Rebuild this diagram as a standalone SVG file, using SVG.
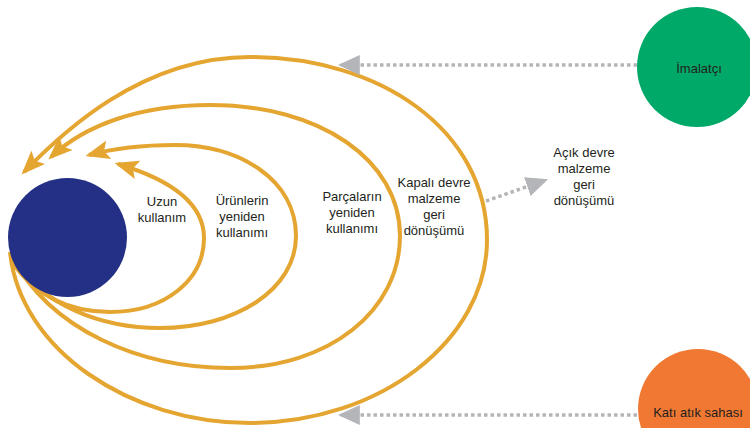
<svg xmlns="http://www.w3.org/2000/svg" width="750" height="428" viewBox="0 0 750 428">
<style>
.loop{fill:none;stroke:#E5A531;stroke-width:4;marker-end:url(#oa)}
.dot{fill:none;stroke:#B3B5B8;stroke-width:3.5;stroke-dasharray:3.5 3}
text{font-family:"Liberation Sans",Arial,sans-serif;font-size:13px;fill:#231F20;text-anchor:middle}
</style>
<defs>
<marker id="oa" markerUnits="userSpaceOnUse" markerWidth="24" markerHeight="20" refX="17" refY="8" orient="auto" viewBox="0 0 20 16">
<path d="M0,0 L20,8 L0,16 L4,8 Z" fill="#E5A531"/>
</marker>
<marker id="ga" markerUnits="userSpaceOnUse" markerWidth="22" markerHeight="20" refX="18" refY="9" orient="auto" viewBox="0 0 20 18">
<path d="M0,0 L20,9 L0,18 Z" fill="#B3B5B8"/>
</marker>
</defs>
<rect width="750" height="428" fill="#FFFFFF"/>
<g id="connectors">
<path class="loop" d="M 10,252 C 20,350 130,423 250,423 C 380,423 487,340 487,240 C 487,130 380,57 250,57 C 140,57 60,135 24,172"/>
<path class="loop" d="M 12,256 C 50,330 140,368 230,368 C 330,368 400,310 400,236 C 400,160 320,105 210,105 C 140,105 85,125 51,157"/>
<path class="loop" d="M 14,262 C 45,305 100,328 160,328 C 235,328 296,290 296,236 C 296,180 240,145 175,145 C 140,145 115,148 89,155"/>
<path class="loop" d="M 14,265 C 40,300 75,312 110,312 C 165,312 204,280 204,238 C 204,200 165,178 118,164"/>
<path class="dot" d="M 637,65 L 340,65" marker-end="url(#ga)"/>
<path class="dot" d="M 637,415 L 340,415" marker-end="url(#ga)"/>
<path class="dot" d="M 486,201 L 546,180" marker-end="url(#ga)"/>
</g>
<g id="center">
<circle cx="67.5" cy="237.5" r="59.5" fill="#243086"/>
</g>
<g id="imalatci">
<circle cx="697" cy="67" r="60" fill="#00A968"/>
<text x="699" y="73">İmalatçı</text>
</g>
<g id="katiatik">
<circle cx="698" cy="409" r="60" fill="#F07832"/>
<text x="698" y="417">Katı atık sahası</text>
</g>
<g id="uzun">
<text x="162" y="206">Uzun</text>
<text x="162" y="222">kullanım</text>
</g>
<g id="urunler">
<text x="242" y="205">Ürünlerin</text>
<text x="242" y="221">yeniden</text>
<text x="242" y="237">kullanımı</text>
</g>
<g id="parcalar">
<text x="352" y="201">Parçaların</text>
<text x="352" y="217">yeniden</text>
<text x="352" y="233">kullanımı</text>
</g>
<g id="kapali">
<text x="434" y="187">Kapalı devre</text>
<text x="434" y="203">malzeme</text>
<text x="434" y="219">geri</text>
<text x="434" y="235">dönüşümü</text>
</g>
<g id="acik">
<text x="584" y="157">Açık devre</text>
<text x="584" y="173">malzeme</text>
<text x="584" y="189">geri</text>
<text x="584" y="205">dönüşümü</text>
</g>
</svg>
